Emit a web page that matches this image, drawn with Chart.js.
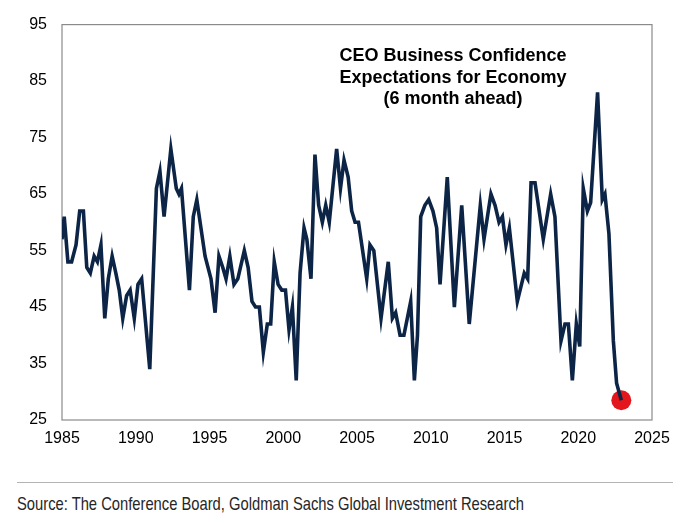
<!DOCTYPE html>
<html><head><meta charset="utf-8">
<script src="https://cdn.jsdelivr.net/npm/chart.js@4.4.0/dist/chart.umd.min.js"></script>
<style>
html,body{margin:0;padding:0;background:#fff;width:680px;height:523px;overflow:hidden;}
#wrap{position:absolute;left:0;top:0;width:680px;height:470px;}
#title{position:absolute;left:283px;width:340px;top:45px;text-align:center;font:bold 18px "Liberation Sans",Arial,sans-serif;line-height:21.5px;color:#000;}
#rule{position:absolute;left:17px;top:482px;width:656px;height:0;border-top:1px solid #b4b4b4;}
#src{position:absolute;left:17px;top:493px;font:19px "Liberation Sans Narrow","Liberation Sans",Arial,sans-serif;line-height:22px;color:#262626;white-space:nowrap;transform-origin:0 0;}
</style></head>
<body>
<div id="wrap"><canvas id="c" width="680" height="470"></canvas></div>
<div id="title">CEO Business Confidence<br>Expectations for Economy<br>(6 month ahead)</div>
<div id="rule"></div>
<div id="src">Source: The Conference Board, Goldman Sachs Global Investment Research</div>
<script>
// Dates (decimal years) of the line's vertices
const dates = [
 1985.00,1985.15,1985.40,1985.65,1985.95,1986.20,1986.45,1986.68,1986.92,1987.18,
 1987.40,1987.64,1987.90,1988.14,1988.40,1988.65,1988.88,1989.12,1989.38,1989.62,
 1989.90,1990.15,1990.40,1990.95,1991.40,1991.64,1991.92,1992.38,1992.75,1992.93,
 1993.10,1993.64,1993.90,1994.14,1994.70,1995.10,1995.38,1995.64,1995.90,1996.12,
 1996.38,1996.66,1996.92,1997.36,1997.62,1997.88,1998.12,1998.38,1998.65,1998.92,
 1999.15,1999.39,1999.65,1999.90,2000.15,2000.39,2000.62,2000.88,2001.14,2001.41,
 2001.60,2001.88,2002.15,2002.40,2002.65,2002.88,2003.12,2003.62,2003.88,2004.12,
 2004.40,2004.64,2004.87,2005.10,2005.66,2005.88,2006.14,2006.63,2007.12,2007.40,
 2007.62,2007.92,2008.18,2008.64,2008.89,2009.10,2009.32,2009.60,2009.86,2010.15,
 2010.40,2010.63,2011.12,2011.60,2012.10,2012.61,2013.36,2013.61,2014.08,2014.36,
 2014.63,2014.86,2015.10,2015.33,2015.87,2016.34,2016.57,2016.80,2017.07,2017.63,
 2018.13,2018.42,2018.83,2019.10,2019.33,2019.60,2019.87,2020.10,2020.34,2020.62,
 2020.84,2021.31,2021.63,2021.81,2022.08,2022.38,2022.60,2022.92
];
// CEO expectations for economy (6 month ahead)
const values = [
 57,61,53,53,56,62,62,52,51,54,
 53,56,43,50,54,51,48,43,47,48,
 43,49,50,34,66,69,61,73,66,65,
 66,48,61,64,54,50,44,54,52,50,
 54,49,50,55,52,46,45,45,37,42,
 42,53,49,48,48,41,45,32,51,59,
 57,50,72,63,60,63,60,73,66,71,
 68,62,60,60,50,56,55,43,53,43,
 44,40,40,46,32,40,61,63,64,62,
 59,49,68,45,63,42,63,57,65,63,
 60,61,56,59,46,51,50,67,67,57,
 65,61,39,42,42,32,42,38,66,62,
 63.5,83,64,65,58,39,31.5,28.5
];
const xTicks = [1985,1990,1995,2000,2005,2010,2015,2020,2025];
const yTicks = [25,35,45,55,65,75,85,95];

const last = dates.length - 1;
const frame = {
  id:'frame',
  beforeDatasetsDraw(c){
    const a=c.chartArea, ctx=c.ctx;
    ctx.save();
    ctx.strokeStyle='#8a8a8a'; ctx.lineWidth=1.2;
    ctx.strokeRect(a.left,a.top,a.right-a.left,a.bottom-a.top);
    ctx.restore();
  }
};
const tickFont = {family:'"Liberation Sans", Arial, sans-serif', size:16};
new Chart(document.getElementById('c'), {
  type:'line',
  data:{datasets:[
    {data:dates.map((d,i)=>({x:d,y:values[i]})), borderColor:'#0c2445', borderWidth:3.6,
     pointRadius:0, tension:0, fill:false},
    {data:[{x:dates[last], y:values[last]}], borderColor:'#e3161d', backgroundColor:'#e3161d',
     pointRadius:10, borderWidth:0, showLine:false}
  ]},
  options:{
    responsive:false, animation:false,
    layout:{padding:{left:0,top:12.7,right:28,bottom:0}},
    plugins:{legend:{display:false}, tooltip:{enabled:false}},
    scales:{
      x:{type:'linear', min:xTicks[0], max:xTicks[xTicks.length-1],
         afterBuildTicks(s){s.ticks = xTicks.map(v=>({value:v}));},
         afterFit(s){s.height=50;},
         grid:{display:false, drawTicks:false}, border:{display:false},
         ticks:{font:tickFont, color:'#000', padding:9, maxRotation:0, autoSkip:false,
                callback:v=>String(v)}},
      y:{min:yTicks[0], max:yTicks[yTicks.length-1],
         afterBuildTicks(s){s.ticks = yTicks.map(v=>({value:v}));},
         afterFit(s){s.width=62;},
         grid:{display:false, drawTicks:false}, border:{display:false},
         ticks:{font:tickFont, color:'#000', padding:15, autoSkip:false}}
    }
  },
  plugins:[frame]
});
const s=document.getElementById('src');
const w=s.getBoundingClientRect().width;
s.style.transform='scaleX('+(507/w)+')';
</script>
</body></html>
